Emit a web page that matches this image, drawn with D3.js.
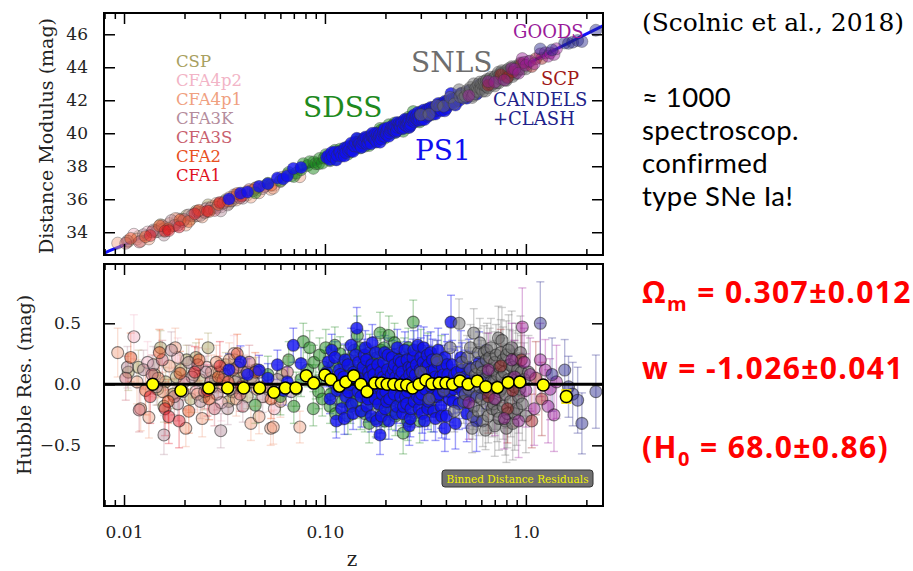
<!DOCTYPE html>
<html>
<head>
<meta charset="utf-8">
<script src="https://cdn.jsdelivr.net/npm/d3@7"></script>
<style>
  body { margin: 0; background: #fff; }
  svg { display: block; }
</style>
</head>
<body>
<svg id="chart" width="913" height="571"></svg>
<script>
// --- fit parameters (Scolnic et al. 2018), used for the Hubble-diagram model line
const omegaM = 0.307, wDE = -1.026, hubble0 = 68.0;
const speedC = 299792.458;

// --- survey names + colours (legend order)
const surveyNames = ["CSP", "CFA4p2", "CFA4p1", "CFA3K", "CFA3S", "CFA2", "CFA1",
                     "SDSS", "PS1", "SNLS", "SCP", "GOODS", "CANDELS"];
const surveyColors = ["#a8a060", "#f2b4c6", "#f0a080", "#b48c9c", "#c8606e", "#e85020", "#e01020",
                      "#1e8a1e", "#1010f0", "#6e6e6e", "#a01818", "#9a1a9a", "#22228a"];

// --- supernovae: [z, Hubble residual (mag), error (mag)]
const cspPts = [[0.0105,0.10,0.15],[0.0118,0.14,0.14],[0.0142,0.08,0.13],[0.0147,-0.04,0.13],[0.0152,0.30,0.14],[0.0158,-0.18,0.13],[0.0161,0.02,0.12],[0.0175,-0.08,0.12],[0.0182,0.06,0.12],[0.0192,0.12,0.12],[0.0205,0.20,0.12],[0.0215,-0.12,0.11],[0.0228,0.22,0.12],[0.0238,0.04,0.11],[0.0250,-0.10,0.11],[0.0262,0.30,0.12],[0.0275,-0.02,0.10],[0.0285,0.04,0.11],[0.0298,0.10,0.11],[0.0321,0.16,0.10],[0.0332,-0.14,0.10],[0.0345,-0.06,0.10],[0.0355,0.20,0.10],[0.0372,0.05,0.10],[0.0390,0.00,0.10],[0.0410,-0.10,0.10],[0.0432,0.06,0.10],[0.0455,0.12,0.10],[0.0520,-0.04,0.10],[0.0610,0.08,0.10]];
const cfa4p2Pts = [[0.0112,0.39,0.18],[0.0131,0.18,0.17],[0.0185,0.22,0.16],[0.0228,-0.06,0.15],[0.0258,0.14,0.15],[0.0305,-0.15,0.15],[0.0352,0.25,0.15],[0.0398,-0.02,0.14],[0.0470,0.10,0.14],[0.0560,-0.20,0.14]];
const cfa4p1Pts = [[0.0093,0.26,0.20],[0.0116,0.02,0.18],[0.0121,-0.20,0.18],[0.0133,-0.27,0.17],[0.0148,0.05,0.16],[0.0156,-0.06,0.16],[0.0168,0.15,0.16],[0.0180,0.30,0.16],[0.0203,-0.36,0.15],[0.0222,0.08,0.15],[0.0232,-0.08,0.15],[0.0245,-0.28,0.15],[0.0272,0.10,0.14],[0.0288,0.18,0.14],[0.0310,-0.02,0.14],[0.0334,0.20,0.14],[0.0362,-0.12,0.14],[0.0375,0.16,0.14],[0.0395,0.10,0.14],[0.0428,-0.32,0.14],[0.0460,-0.04,0.14],[0.0470,-0.265,0.14],[0.0537,-0.36,0.14],[0.0553,-0.35,0.14],[0.0600,-0.14,0.13],[0.0750,-0.35,0.13]];
const cfa3kPts = [[0.0104,0.14,0.17],[0.0125,0.12,0.16],[0.0140,0.16,0.15],[0.0145,-0.02,0.15],[0.0158,-0.415,0.16],[0.0172,0.28,0.15],[0.0185,-0.16,0.14],[0.0196,-0.06,0.14],[0.0210,0.18,0.14],[0.0218,0.06,0.14],[0.0240,-0.14,0.14],[0.0255,0.10,0.13],[0.0270,0.02,0.13],[0.0290,-0.08,0.13],[0.0303,-0.38,0.14],[0.0318,0.08,0.13],[0.0328,-0.20,0.13],[0.0340,-0.04,0.13],[0.0358,0.02,0.13],[0.0366,0.14,0.13],[0.0390,-0.18,0.13],[0.0410,0.10,0.13],[0.0440,0.02,0.13],[0.0490,-0.10,0.13],[0.0580,0.04,0.12],[0.0680,-0.06,0.12]];
const cfa3sPts = [[0.0102,0.05,0.18],[0.0119,-0.21,0.18],[0.0138,0.08,0.16],[0.0155,0.20,0.16],[0.0178,-0.10,0.15],[0.0199,0.02,0.15],[0.0233,0.16,0.14],[0.0252,-0.06,0.14],[0.0282,-0.20,0.14],[0.0312,0.04,0.14],[0.0348,0.12,0.14],[0.0378,-0.08,0.14],[0.0420,0.18,0.14],[0.0500,-0.02,0.13],[0.0650,0.10,0.13]];
const cfa2Pts = [[0.0108,0.22,0.20],[0.0128,-0.05,0.20],[0.0150,0.26,0.19],[0.0166,-0.14,0.18],[0.0190,0.09,0.18],[0.0210,-0.22,0.18],[0.0236,0.20,0.17],[0.0265,-0.12,0.17],[0.0295,0.06,0.17],[0.0330,0.02,0.16],[0.0366,0.25,0.16],[0.0450,0.10,0.16],[0.0540,-0.12,0.16]];
const cfa1Pts = [[0.0135,-0.10,0.22],[0.0160,-0.20,0.22],[0.0167,-0.265,0.22],[0.0188,-0.30,0.22],[0.0225,0.10,0.21],[0.0260,-0.05,0.21],[0.0300,0.15,0.20],[0.0385,-0.02,0.20]];
const sdssPts = [[0.045,-0.17,0.15],[0.052,0.08,0.15],[0.060,-0.10,0.15],[0.066,0.20,0.15],[0.070,-0.18,0.14],[0.072,-0.04,0.14],[0.076,0.04,0.14],[0.078,0.35,0.15],[0.082,0.12,0.14],[0.084,0.30,0.14],[0.0875,-0.20,0.14],[0.088,0.18,0.14],[0.090,0.02,0.14],[0.093,-0.06,0.14],[0.094,0.24,0.14],[0.097,-0.12,0.14],[0.099,0.14,0.14],[0.101,0.30,0.15],[0.104,0.06,0.14],[0.106,-0.18,0.14],[0.107,-0.08,0.14],[0.110,0.15,0.14],[0.112,0.32,0.15],[0.113,-0.24,0.15],[0.116,0.04,0.14],[0.118,-0.04,0.14],[0.119,0.25,0.14],[0.122,-0.14,0.14],[0.124,0.18,0.14],[0.125,0.10,0.14],[0.128,-0.03,0.14],[0.130,-0.26,0.15],[0.131,0.20,0.14],[0.134,-0.18,0.14],[0.136,0.12,0.14],[0.137,0.05,0.14],[0.140,0.28,0.15],[0.142,-0.08,0.14],[0.143,-0.14,0.14],[0.145,0.40,0.16],[0.148,0.14,0.14],[0.149,0.30,0.15],[0.150,-0.22,0.15],[0.153,0.02,0.14],[0.155,-0.06,0.14],[0.156,0.18,0.14],[0.158,-0.24,0.15],[0.160,0.10,0.14],[0.161,-0.10,0.14],[0.164,0.08,0.14],[0.166,-0.32,0.16],[0.167,0.26,0.15],[0.170,-0.16,0.14],[0.172,0.18,0.14],[0.173,0.00,0.14],[0.176,0.12,0.14],[0.178,0.06,0.14],[0.179,-0.28,0.15],[0.182,0.22,0.14],[0.184,-0.12,0.14],[0.185,-0.06,0.14],[0.188,0.42,0.17],[0.190,0.28,0.15],[0.191,0.06,0.14],[0.194,-0.20,0.15],[0.197,0.30,0.15],[0.198,-0.30,0.15],[0.200,-0.10,0.14],[0.204,0.16,0.14],[0.206,0.10,0.15],[0.208,0.40,0.16],[0.212,-0.14,0.15],[0.214,-0.22,0.15],[0.216,0.04,0.15],[0.220,0.24,0.15],[0.222,0.34,0.16],[0.224,-0.26,0.16],[0.228,0.10,0.15],[0.230,-0.12,0.15],[0.232,-0.06,0.15],[0.236,0.20,0.15],[0.238,0.06,0.15],[0.240,-0.18,0.16],[0.245,-0.40,0.17],[0.248,0.22,0.16],[0.250,0.14,0.15],[0.255,-0.08,0.16],[0.258,-0.30,0.16],[0.260,0.30,0.16],[0.266,-0.22,0.16],[0.268,0.16,0.16],[0.272,0.06,0.16],[0.275,0.51,0.18],[0.280,-0.14,0.16],[0.284,-0.08,0.17],[0.288,0.18,0.17],[0.296,-0.30,0.18],[0.300,0.28,0.17],[0.305,0.10,0.17],[0.315,-0.04,0.18],[0.320,-0.16,0.18],[0.325,0.24,0.18],[0.338,-0.20,0.19],[0.350,0.12,0.19],[0.365,-0.10,0.20],[0.380,0.20,0.20]];
const ps1Pts = [[0.0333,0.12,0.13],[0.0380,0.185,0.13],[0.0412,0.08,0.13],[0.0470,0.117,0.12],[0.0520,0.05,0.12],[0.0580,0.16,0.12],[0.0620,-0.05,0.12],[0.0650,0.02,0.12],[0.0696,0.32,0.14],[0.0760,0.17,0.13],
  [0.102,0.10,0.12],[0.104,0.185,0.12],[0.106,-0.12,0.12],[0.108,0.28,0.13],[0.109,0.02,0.12],[0.112,0.22,0.13],[0.114,-0.30,0.14],[0.115,-0.05,0.12],[0.118,0.12,0.12],[0.119,0.08,0.12],[0.121,-0.20,0.13],[0.124,0.06,0.12],[0.125,-0.28,0.13],[0.126,0.20,0.13],[0.127,-0.10,0.12],[0.130,0.16,0.12],[0.131,-0.06,0.12],[0.133,0.00,0.12],[0.135,0.32,0.14],[0.136,-0.16,0.12],[0.138,-0.24,0.13],[0.139,0.10,0.12],[0.141,0.04,0.12],[0.142,0.24,0.13],[0.144,0.46,0.17],[0.146,-0.06,0.12],[0.147,0.18,0.13],[0.148,0.08,0.12],[0.149,0.04,0.12],
  [0.151,-0.10,0.12],[0.152,-0.22,0.13],[0.154,0.02,0.12],[0.155,0.14,0.12],[0.157,0.24,0.13],[0.158,-0.02,0.12],[0.159,0.30,0.14],[0.161,0.20,0.13],[0.162,-0.18,0.13],[0.164,-0.12,0.12],[0.165,0.10,0.12],[0.167,0.06,0.12],[0.168,-0.04,0.12],[0.170,-0.26,0.13],[0.171,0.16,0.12],[0.172,0.34,0.15],[0.173,0.12,0.12],[0.175,0.08,0.12],[0.176,-0.06,0.12],[0.178,-0.12,0.13],[0.179,0.26,0.13],[0.181,-0.30,0.14],[0.182,0.02,0.12],[0.183,0.16,0.13],[0.185,-0.16,0.12],[0.186,-0.02,0.12],[0.187,0.05,0.12],[0.188,-0.415,0.16],[0.190,0.10,0.12],[0.191,-0.26,0.14],[0.193,-0.08,0.12],[0.195,0.06,0.13],[0.196,0.18,0.13],[0.198,0.26,0.14],[0.199,-0.20,0.13],
  [0.201,-0.06,0.13],[0.202,0.04,0.13],[0.203,-0.14,0.13],[0.205,0.12,0.13],[0.206,0.24,0.14],[0.208,-0.30,0.15],[0.210,-0.12,0.13],[0.212,0.02,0.13],[0.214,0.08,0.13],[0.216,0.22,0.14],[0.218,-0.02,0.13],[0.219,0.12,0.13],[0.221,-0.08,0.13],[0.222,0.16,0.13],[0.225,0.06,0.13],[0.226,-0.24,0.14],[0.228,-0.18,0.14],[0.229,0.30,0.15],[0.230,0.00,0.13],[0.233,0.12,0.14],[0.234,0.20,0.14],[0.236,-0.02,0.13],[0.237,0.06,0.13],[0.238,-0.10,0.13],[0.240,0.18,0.14],[0.242,0.10,0.14],[0.244,-0.24,0.15],[0.246,-0.18,0.14],[0.248,0.02,0.14],[0.250,0.28,0.15],[0.252,-0.10,0.14],[0.254,0.04,0.14],[0.255,-0.16,0.14],[0.256,0.20,0.15],[0.258,-0.06,0.14],[0.260,-0.02,0.14],[0.262,0.14,0.14],[0.263,-0.34,0.16],[0.264,0.08,0.14],[0.266,-0.28,0.15],[0.268,-0.20,0.15],[0.270,0.02,0.14],[0.271,0.14,0.14],[0.273,0.10,0.15],[0.274,0.22,0.15],[0.277,0.28,0.16],[0.278,-0.14,0.14],[0.281,-0.06,0.15],[0.282,0.08,0.15],[0.285,0.16,0.15],[0.286,-0.04,0.15],[0.289,-0.10,0.15],[0.290,0.32,0.16],[0.292,0.02,0.15],[0.294,-0.20,0.15],[0.296,-0.12,0.15],[0.298,0.12,0.15],
  [0.300,0.22,0.16],[0.303,-0.08,0.15],[0.305,-0.24,0.16],[0.306,0.06,0.15],[0.308,0.18,0.16],[0.310,0.30,0.17],[0.312,0.10,0.16],[0.313,-0.30,0.16],[0.316,-0.04,0.16],[0.318,0.04,0.16],[0.320,0.14,0.16],[0.323,0.24,0.16],[0.325,-0.20,0.17],[0.327,0.16,0.16],[0.328,-0.14,0.16],[0.331,0.02,0.16],[0.333,0.10,0.16],[0.336,0.26,0.17],[0.338,-0.02,0.16],[0.341,-0.10,0.17],[0.343,0.20,0.17],[0.347,0.04,0.16],[0.348,-0.22,0.17],[0.350,0.12,0.17],[0.354,0.06,0.17],[0.355,-0.28,0.18],[0.357,0.00,0.17],[0.360,-0.10,0.17],[0.363,0.18,0.18],[0.366,0.28,0.18],[0.369,-0.08,0.17],[0.372,0.00,0.17],[0.375,0.06,0.18],[0.378,-0.18,0.18],[0.381,-0.26,0.18],[0.384,0.14,0.18],[0.389,0.08,0.18],[0.390,-0.06,0.18],[0.393,-0.02,0.18],[0.395,-0.36,0.19],[0.396,0.22,0.19],[0.402,-0.26,0.19],[0.405,0.16,0.19],[0.409,0.08,0.19],[0.412,0.02,0.19],[0.416,-0.12,0.19],[0.420,-0.06,0.19],[0.424,0.51,0.22],[0.430,0.16,0.20],[0.434,-0.14,0.20],[0.438,-0.04,0.20],[0.442,0.08,0.20],[0.446,-0.32,0.21],
  [0.455,0.10,0.21],[0.460,-0.02,0.21],[0.465,-0.16,0.21],[0.475,0.22,0.22],[0.480,0.12,0.22],[0.485,-0.06,0.22],[0.496,0.06,0.22],[0.500,-0.14,0.22],[0.508,-0.24,0.23],[0.520,0.14,0.23],[0.527,0.04,0.23],[0.535,-0.10,0.24],[0.550,0.02,0.24],[0.568,-0.30,0.25],[0.585,0.18,0.25],[0.605,-0.08,0.26],[0.630,0.06,0.26]];
const snlsPts = [[0.30,0.10,0.15],[0.33,-0.12,0.15],[0.36,0.20,0.16],[0.39,-0.05,0.16],[0.42,0.30,0.17],[0.44,-0.22,0.17],[0.465,0.50,0.20],[0.47,0.05,0.17],[0.48,0.18,0.18],[0.49,-0.14,0.18],[0.50,-0.08,0.18],[0.51,0.22,0.18],[0.52,-0.04,0.18],[0.53,0.12,0.18],[0.53,0.30,0.19],[0.54,-0.36,0.20],[0.545,-0.26,0.19],[0.55,0.42,0.20],[0.55,-0.18,0.19],[0.56,0.08,0.19],[0.57,-0.10,0.19],[0.57,0.14,0.19],[0.58,0.26,0.20],[0.58,-0.22,0.20],[0.59,-0.02,0.20],[0.59,0.34,0.20],[0.60,0.16,0.20],[0.60,-0.12,0.20],[0.61,-0.30,0.21],[0.61,0.10,0.21],[0.62,0.04,0.21],[0.62,0.26,0.22],[0.63,-0.375,0.16],[0.63,-0.04,0.21],[0.635,0.20,0.22],[0.64,-0.16,0.22],[0.64,0.28,0.22],[0.65,0.10,0.22],[0.65,-0.26,0.22],[0.66,-0.06,0.23],[0.66,0.22,0.24],[0.67,0.30,0.24],[0.67,0.02,0.23],[0.68,-0.20,0.23],[0.68,0.12,0.24],[0.69,0.02,0.24],[0.69,-0.16,0.24],[0.70,0.18,0.25],[0.70,-0.34,0.25],[0.71,-0.12,0.25],[0.71,0.24,0.25],[0.72,0.08,0.25],[0.72,-0.22,0.25],[0.73,0.38,0.26],[0.735,-0.28,0.26],[0.74,0.14,0.26],[0.74,-0.06,0.26],[0.75,-0.04,0.27],[0.75,0.26,0.27],[0.76,0.36,0.27],[0.76,0.06,0.27],[0.77,-0.18,0.27],[0.77,0.20,0.27],[0.78,0.10,0.28],[0.79,-0.08,0.28],[0.79,-0.30,0.28],[0.80,0.24,0.28],[0.80,-0.36,0.28],[0.81,-0.24,0.28],[0.82,0.04,0.29],[0.82,0.28,0.29],[0.83,0.16,0.29],[0.84,-0.14,0.29],[0.84,0.00,0.29],[0.85,0.30,0.30],[0.86,-0.32,0.30],[0.86,0.14,0.30],[0.87,0.06,0.30],[0.88,-0.02,0.30],[0.88,-0.24,0.30],[0.89,0.20,0.30],[0.90,-0.20,0.30],[0.90,0.04,0.30],[0.91,0.12,0.30],[0.92,-0.10,0.30],[0.93,-0.04,0.30],[0.94,0.26,0.30],[0.95,0.10,0.30],[0.96,-0.16,0.30],[0.98,0.04,0.30],[1.00,-0.26,0.30],[1.03,0.10,0.30]];
const scpPts = [[0.65,-0.10,0.30],[0.75,0.15,0.30],[0.81,-0.20,0.28],[0.86,-0.05,0.30],[0.95,0.20,0.30],[1.07,-0.30,0.22],[1.12,0.05,0.30],[1.20,-0.12,0.30]];
const goodsPts = [[0.52,-0.15,0.30],[0.65,0.12,0.30],[0.70,-0.12,0.30],[0.78,-0.28,0.25],[0.85,0.20,0.30],[0.88,0.06,0.30],[0.92,-0.30,0.30],[0.96,0.47,0.32],[0.98,0.18,0.28],[1.00,-0.05,0.30],[1.05,0.08,0.30],[1.10,-0.20,0.30],[1.18,0.20,0.30],[1.25,0.117,0.25],[1.29,-0.18,0.30],[1.32,-0.04,0.25],[1.38,-0.25,0.30],[1.42,0.02,0.30]];
const candelsPts = [[1.18,0.50,0.34],[1.35,0.08,0.30],[1.56,0.117,0.25],[1.63,-0.02,0.25],[1.71,-0.08,0.26],[1.81,-0.13,0.27],[1.90,-0.32,0.25],[2.23,-0.06,0.30]];

// --- binned distance residuals (yellow)
const binZ = [0.0139,0.0192,0.0264,0.0328,0.0394,0.0473,0.0557,0.0635,0.0717,0.0807,0.0879,0.100,0.107,0.118,0.127,0.139,0.151,0.162,0.177,0.191,0.204,0.220,0.238,0.255,0.273,0.294,0.318,0.341,0.370,0.400,0.432,0.470,0.516,0.573,0.632,0.722,0.816,0.933,1.22,1.59];
const binRes = [0.00,-0.05,-0.03,-0.03,-0.03,-0.03,-0.065,-0.03,-0.03,0.07,0.01,0.076,0.04,-0.015,0.02,0.07,0.00,-0.06,0.01,0.01,0.00,0.00,-0.005,-0.005,-0.03,0.00,0.035,0.005,0.01,0.01,0.00,0.027,0.00,0.027,-0.02,-0.025,0.016,0.02,-0.005,-0.10];
const binErr = [0,0,0,0,0,0,0,0,0,0,0,0,0,0,0,0,0,0,0,0,0,0,0,0,0,0,0,0,0,0,0,0,0,0,0,0,0,0,0.03,0.05];

// tick labels
const muTicks = [34, 36, 38, 40, 42, 44, 46];
const resTicks = [-0.5, 0.0, 0.5];
const zMajor = [0.01, 0.1, 1.0];
const zMajorLabels = ["0.01", "0.10", "1.0"];

const surveyPts = [cspPts, cfa4p2Pts, cfa4p1Pts, cfa3kPts, cfa3sPts, cfa2Pts, cfa1Pts,
                   sdssPts, ps1Pts, snlsPts, scpPts, goodsPts, candelsPts];
const surveys = surveyNames.map((n, i) => ({ name: n, color: surveyColors[i], pts: surveyPts[i] }));

// distance modulus for flat wCDM (Simpson's rule)
function distMod(z) {
    const n = 200, h = z / n;
    let s = 0;
    for (let i = 0; i <= n; i++) {
        const zz = i * h;
        const E = Math.sqrt(omegaM * Math.pow(1 + zz, 3) + (1 - omegaM) * Math.pow(1 + zz, 3 * (1 + wDE)));
        const wt = (i === 0 || i === n) ? 1 : (i % 2 ? 4 : 2);
        s += wt / E;
    }
    const dc = speedC / hubble0 * s * h / 3; // Mpc
    return 5 * Math.log10((1 + z) * dc * 1e6 / 10);
}

const svg = d3.select("#chart");
const serif = "DejaVu Serif";
const sansFont = "Lato, 'Open Sans', sans-serif";

const L = 104, R = 603;
const topP = { y0: 13, y1: 255 };
const botP = { y0: 264, y1: 506 };

const x = d3.scaleLog().domain([0.00795, 2.42]).range([L, R]);
const yMu = d3.scaleLinear().domain([32.62, 47.29]).range([topP.y1, topP.y0]);
const yRes = d3.scaleLinear().domain([-0.997, 0.986]).range([botP.y1, botP.y0]);

// minor ticks 2..9 per decade
const zMinor = [];
[0.001, 0.01, 0.1, 1].forEach(d => {
    for (let k = 2; k <= 9; k++) {
        const v = k * d;
        if (v >= 0.00795 && v <= 2.42) zMinor.push(v);
    }
});

svg.append("clipPath").attr("id", "clipTop")
    .append("rect").attr("x", L).attr("y", topP.y0).attr("width", R - L).attr("height", topP.y1 - topP.y0);
svg.append("clipPath").attr("id", "clipBot")
    .append("rect").attr("x", L).attr("y", botP.y0).attr("width", R - L).attr("height", botP.y1 - botP.y0);

function fillOp(name) {
    if (name === "PS1") return 0.8;
    if (name === "SDSS" || name === "SNLS") return 0.5;
    return 0.45;
}

// ---------- top panel: Hubble diagram ----------
const gTop = svg.append("g").attr("clip-path", "url(#clipTop)");

const lineZ = d3.range(0, 201).map(i => 0.0075 * Math.pow(2.5 / 0.0075, i / 200));
gTop.append("path")
    .datum(lineZ)
    .attr("fill", "none")
    .attr("stroke", "#1010ff")
    .attr("stroke-width", 3)
    .attr("d", d3.line().x(d => x(d)).y(d => yMu(distMod(d))));

surveys.forEach(s => {
    gTop.append("g").selectAll("circle")
        .data(s.pts)
        .enter().append("circle")
        .attr("cx", d => x(d[0]))
        .attr("cy", d => yMu(distMod(d[0]) + d[1]))
        .attr("r", 6)
        .attr("fill", s.color)
        .attr("fill-opacity", fillOp(s.name))
        .attr("stroke", "#333")
        .attr("stroke-opacity", 0.35)
        .attr("stroke-width", 1);
});

// ---------- bottom panel: residuals ----------
const gBot = svg.append("g").attr("clip-path", "url(#clipBot)");

surveys.forEach(s => {
    const eb = gBot.append("g")
        .attr("stroke", s.color)
        .attr("stroke-opacity", s.name === "PS1" ? 0.4 : 0.32)
        .attr("stroke-width", 1.4);
    s.pts.forEach(d => {
        const cx = x(d[0]), y1 = yRes(d[1] + d[2]), y2 = yRes(d[1] - d[2]);
        eb.append("line").attr("x1", cx).attr("x2", cx).attr("y1", y1).attr("y2", y2);
        eb.append("line").attr("x1", cx - 4).attr("x2", cx + 4).attr("y1", y1).attr("y2", y1);
        eb.append("line").attr("x1", cx - 4).attr("x2", cx + 4).attr("y1", y2).attr("y2", y2);
    });
});

surveys.forEach(s => {
    gBot.append("g").selectAll("circle")
        .data(s.pts)
        .enter().append("circle")
        .attr("cx", d => x(d[0]))
        .attr("cy", d => yRes(d[1]))
        .attr("r", 6)
        .attr("fill", s.color)
        .attr("fill-opacity", fillOp(s.name))
        .attr("stroke", "#222")
        .attr("stroke-opacity", 0.55)
        .attr("stroke-width", 1.1);
});

gBot.append("line")
    .attr("x1", L).attr("x2", R)
    .attr("y1", yRes(0)).attr("y2", yRes(0))
    .attr("stroke", "#000").attr("stroke-width", 3);

// binned residuals
const bins = binZ.map((z, i) => ({ z: z, r: binRes[i], e: binErr[i] }));
bins.filter(b => b.e > 0).forEach(b => {
    const cx = x(b.z);
    gBot.append("line").attr("x1", cx).attr("x2", cx)
        .attr("y1", yRes(b.r + b.e)).attr("y2", yRes(b.r - b.e))
        .attr("stroke", "#f0e000").attr("stroke-width", 2);
    [b.r + b.e, b.r - b.e].forEach(v => {
        gBot.append("line").attr("x1", cx - 5).attr("x2", cx + 5)
            .attr("y1", yRes(v)).attr("y2", yRes(v))
            .attr("stroke", "#f0e000").attr("stroke-width", 2.5);
    });
});
gBot.append("g").selectAll("circle")
    .data(bins)
    .enter().append("circle")
    .attr("cx", d => x(d.z))
    .attr("cy", d => yRes(d.r))
    .attr("r", 6)
    .attr("fill", "#ffff00")
    .attr("stroke", "#000")
    .attr("stroke-width", 1.5);

// ---------- axes ----------
function styleAxis(g, fontSize) {
    g.select(".domain").remove();
    g.selectAll(".tick line").attr("stroke", "#000").attr("stroke-width", 1.5);
    g.selectAll(".tick text").attr("font-family", serif).attr("font-size", fontSize).attr("fill", "#222");
}

function panelAxes(yScale, yTicks, yFmt, panel, xLabels, yPad) {
    // left y
    svg.append("g").attr("transform", `translate(${L},0)`)
        .call(d3.axisLeft(yScale).tickValues(yTicks).tickSize(-11).tickPadding(yPad).tickFormat(yFmt))
        .call(g => styleAxis(g, 17));
    // right y
    svg.append("g").attr("transform", `translate(${R},0)`)
        .call(d3.axisRight(yScale).tickValues(yTicks).tickSize(-11).tickFormat(""))
        .call(g => styleAxis(g, 17));
    // top x
    svg.append("g").attr("transform", `translate(0,${panel.y0})`)
        .call(d3.axisTop(x).tickValues(zMajor).tickSize(-11).tickFormat(""))
        .call(g => styleAxis(g, 17));
    svg.append("g").attr("transform", `translate(0,${panel.y0})`)
        .call(d3.axisTop(x).tickValues(zMinor).tickSize(-6).tickFormat(""))
        .call(g => styleAxis(g, 17));
    // bottom x
    svg.append("g").attr("transform", `translate(0,${panel.y1})`)
        .call(d3.axisBottom(x).tickValues(zMajor).tickSize(-11).tickPadding(20)
            .tickFormat((d, i) => xLabels ? zMajorLabels[i] : ""))
        .call(g => styleAxis(g, 17));
    svg.append("g").attr("transform", `translate(0,${panel.y1})`)
        .call(d3.axisBottom(x).tickValues(zMinor).tickSize(-6).tickFormat(""))
        .call(g => styleAxis(g, 17));
    // frame
    svg.append("rect")
        .attr("x", L).attr("y", panel.y0)
        .attr("width", R - L).attr("height", panel.y1 - panel.y0)
        .attr("fill", "none").attr("stroke", "#000").attr("stroke-width", 2);
}

panelAxes(yMu, muTicks, d => d, topP, false, 16);
panelAxes(yRes, resTicks, d => d === 0 ? "0.0" : d3.format(".1f")(d).replace("-", "\u2212"), botP, true, 23);

// axis titles
svg.append("text")
    .attr("transform", `translate(53,${(topP.y0 + topP.y1) / 2 + 2}) rotate(-90)`)
    .attr("text-anchor", "middle")
    .attr("font-family", serif).attr("font-size", 19).attr("fill", "#222")
    .text("Distance Modulus (mag)");
svg.append("text")
    .attr("transform", `translate(31,${(botP.y0 + botP.y1) / 2}) rotate(-90)`)
    .attr("text-anchor", "middle")
    .attr("font-family", serif).attr("font-size", 19).attr("fill", "#222")
    .text("Hubble Res. (mag)");
svg.append("text")
    .attr("x", 352).attr("y", 566)
    .attr("text-anchor", "middle")
    .attr("font-family", serif).attr("font-size", 20).attr("fill", "#222")
    .text("z");

// ---------- survey labels ----------
const lowZLabels = surveyNames.slice(0, 7);
svg.append("g").selectAll("text")
    .data(lowZLabels)
    .enter().append("text")
    .attr("x", 176)
    .attr("y", (d, i) => 67 + i * 19)
    .attr("font-family", serif).attr("font-size", 16.5)
    .attr("fill", (d, i) => surveyColors[i])
    .text(d => d);

const bigLabels = [
    { name: "SDSS", x: 303, y: 117, size: 28 },
    { name: "SNLS", x: 411, y: 72, size: 28 },
    { name: "PS1", x: 415, y: 160, size: 28 },
    { name: "GOODS", x: 513, y: 38, size: 18 },
    { name: "SCP", x: 541, y: 85, size: 18 },
    { name: "CANDELS", x: 493, y: 106, size: 18 }
];
bigLabels.forEach(b => {
    svg.append("text")
        .attr("x", b.x).attr("y", b.y)
        .attr("font-family", serif).attr("font-size", b.size)
        .attr("fill", surveyColors[surveyNames.indexOf(b.name)])
        .text(b.name);
});
svg.append("text")
    .attr("x", 493).attr("y", 125)
    .attr("font-family", serif).attr("font-size", 18)
    .attr("fill", surveyColors[surveyNames.indexOf("CANDELS")])
    .text("+CLASH");

// binned residual box
svg.append("rect")
    .attr("x", 442).attr("y", 470).attr("width", 151).attr("height", 17).attr("rx", 3)
    .attr("fill", "#707070").attr("stroke", "#333").attr("stroke-width", 1);
svg.append("text")
    .attr("x", 517.5).attr("y", 482.5)
    .attr("text-anchor", "middle")
    .attr("font-family", serif).attr("font-size", 10.5).attr("fill", "#f2f200")
    .text("Binned Distance Residuals");

// ---------- right-hand annotations ----------
svg.append("text")
    .attr("x", 642).attr("y", 31)
    .attr("font-family", serif).attr("font-size", 25)
    .attr("textLength", 262).attr("lengthAdjust", "spacingAndGlyphs")
    .attr("fill", "#000")
    .text("(Scolnic et al., 2018)");

const noteLines = ["\u2248 1000", "spectroscop.", "confirmed", "type SNe Ia!"];
svg.append("g").selectAll("text")
    .data(noteLines)
    .enter().append("text")
    .attr("x", 642)
    .attr("y", (d, i) => 107 + i * 33)
    .attr("font-family", sansFont).attr("font-size", 27.5)
    .attr("letter-spacing", 0.4).attr("fill", "#000")
    .text(d => d);

const red = "#ff0000";
const t1 = svg.append("text").attr("x", 642).attr("y", 303)
    .attr("font-family", "'Open Sans', sans-serif").attr("font-weight", "bold").attr("font-size", 30)
    .attr("letter-spacing", 1.4).attr("fill", red);
t1.append("tspan").text("\u03A9");
t1.append("tspan").attr("font-size", 20).attr("dy", 8).text("m");
t1.append("tspan").attr("dy", -8).text(" = 0.307\u00B10.012");

svg.append("text").attr("x", 642).attr("y", 379)
    .attr("font-family", "'Open Sans', sans-serif").attr("font-weight", "bold").attr("font-size", 30)
    .attr("letter-spacing", 1.4).attr("fill", red)
    .text("w = -1.026\u00B10.041");

const t3 = svg.append("text").attr("x", 642).attr("y", 458)
    .attr("font-family", "'Open Sans', sans-serif").attr("font-weight", "bold").attr("font-size", 30)
    .attr("letter-spacing", 1.4).attr("fill", red);
t3.append("tspan").text("(H");
t3.append("tspan").attr("font-size", 20).attr("dy", 8).text("0");
t3.append("tspan").attr("dy", -8).text(" = 68.0\u00B10.86)");
</script>
</body>
</html>
